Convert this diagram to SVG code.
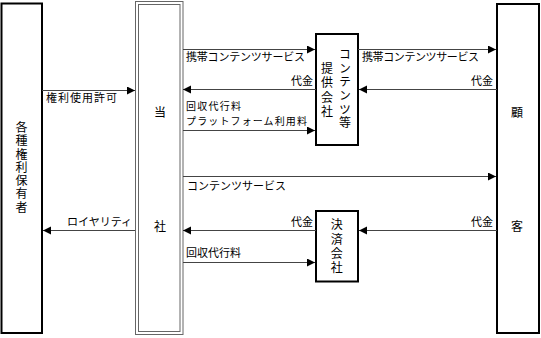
<svg xmlns="http://www.w3.org/2000/svg" width="541" height="338" viewBox="0 0 541 338">
<defs>
<marker id="ah" markerUnits="userSpaceOnUse" markerWidth="9" markerHeight="9" refX="8" refY="4" orient="auto"><path d="M0,0 L8,4 L0,8 z" fill="#000"/></marker>
<style>
text{font-family:"Noto Sans CJK JP","Noto Sans CJK SC",sans-serif;fill:#000}
.lb{font-size:11px}
.sm{font-size:10px}
.nd{font-size:12px;text-anchor:middle}
.vt{font-size:12px;text-anchor:middle;writing-mode:vertical-rl}
.box{fill:#fff;stroke:#000;stroke-width:2}
.dbl{fill:none;stroke:#666;stroke-width:1}
.cn{stroke:#444;stroke-width:1;fill:none;marker-end:url(#ah)}
</style>
</defs>
<rect width="541" height="338" fill="#fff"/>
<g id="holders">
<rect class="box" x="1.5" y="3.5" width="40.5" height="329.5"/>
<text class="vt" x="21.5" y="168" letter-spacing="1.3">各種権利保有者</text>
</g>
<g id="company">
<rect class="dbl" x="135.5" y="1.5" width="47.5" height="333"/>
<rect class="dbl" x="138.5" y="4.5" width="41.5" height="327"/>
<text class="nd" x="160" y="116.6">当</text>
<text class="nd" x="160" y="230.6">社</text>
</g>
<g id="provider">
<rect class="box" x="316" y="34" width="42" height="111"/>
<text class="vt" x="345" y="89.5" letter-spacing="1.6">コンテンツ等</text>
<text class="vt" x="327" y="91" letter-spacing="2.3">提供会社</text>
</g>
<g id="settlement">
<rect class="box" x="316" y="211" width="42" height="70.5"/>
<text class="vt" x="336.7" y="247.5" letter-spacing="2.3">決済会社</text>
</g>
<g id="customer">
<rect class="box" x="497" y="4" width="42" height="329"/>
<text class="nd" x="517" y="116.6">顧</text>
<text class="nd" x="517" y="230.6">客</text>
</g>
<g id="connectors">
<line class="cn" x1="42" y1="90.5" x2="135" y2="90.5"/>
<line class="cn" x1="183" y1="49.5" x2="315" y2="49.5"/>
<line class="cn" x1="316" y1="89.5" x2="183" y2="89.5"/>
<line class="cn" x1="183" y1="130.5" x2="315" y2="130.5"/>
<line class="cn" x1="358" y1="49.5" x2="496" y2="49.5"/>
<line class="cn" x1="497" y1="89.5" x2="359" y2="89.5"/>
<line class="cn" x1="183" y1="176.5" x2="496" y2="176.5"/>
<line class="cn" x1="135" y1="230.5" x2="43" y2="230.5"/>
<line class="cn" x1="316" y1="230.5" x2="183" y2="230.5"/>
<line class="cn" x1="497" y1="230.5" x2="359" y2="230.5"/>
<line class="cn" x1="183" y1="262.5" x2="315" y2="262.5"/>
<text class="lb" x="46" y="102" textLength="71" lengthAdjust="spacing">権利使用許可</text>
<text class="lb" x="186" y="61" textLength="119" lengthAdjust="spacing">携帯コンテンツサービス</text>
<text class="lb" x="313" y="85" text-anchor="end">代金</text>
<text class="sm" x="186" y="109.5" textLength="55" lengthAdjust="spacing">回収代行料</text>
<text class="sm" x="186" y="124.5" textLength="121" lengthAdjust="spacing">プラットフォーム利用料</text>
<text class="lb" x="362" y="61" textLength="117" lengthAdjust="spacing">携帯コンテンツサービス</text>
<text class="lb" x="493" y="85" text-anchor="end">代金</text>
<text class="lb" x="187" y="190">コンテンツサービス</text>
<text class="lb" x="132" y="226" text-anchor="end">ロイヤリティ</text>
<text class="lb" x="313" y="226" text-anchor="end">代金</text>
<text class="lb" x="493" y="226" text-anchor="end">代金</text>
<text class="lb" x="186" y="257">回収代行料</text>
</g>
</svg>
